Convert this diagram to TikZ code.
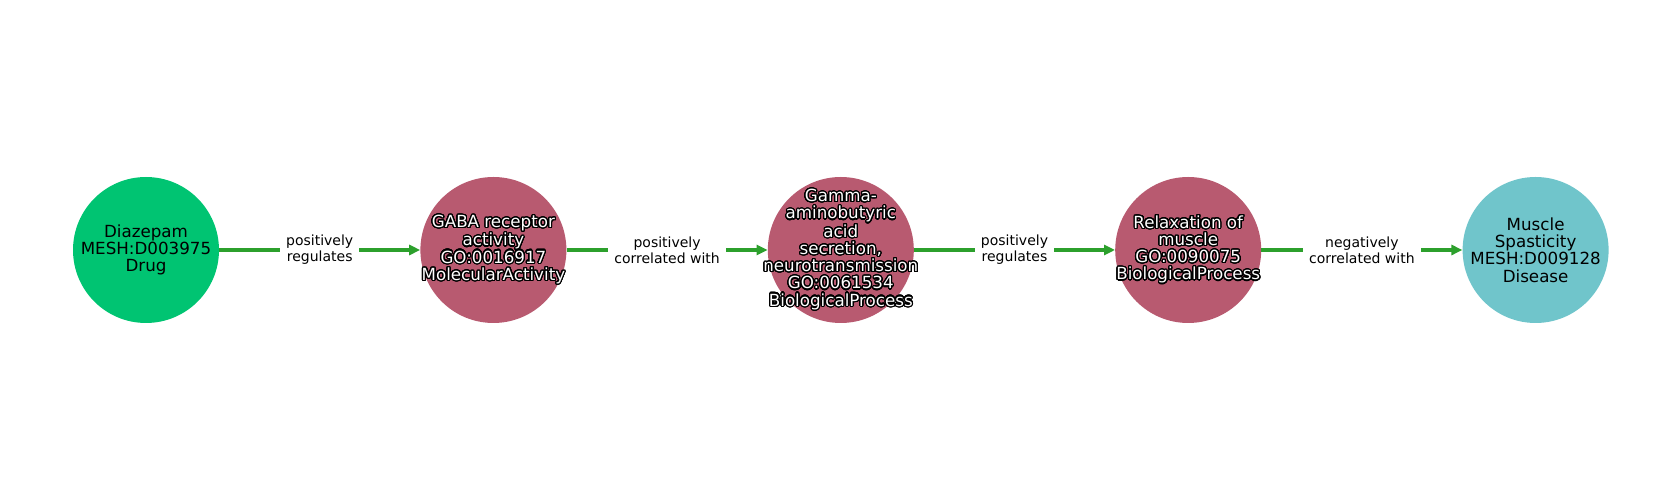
\documentclass[tikz,border=0pt]{standalone}
\usepackage{fontspec}
\setmainfont{DejaVu Sans}
\usepackage{contour}
\contourlength{1.2pt}
\contournumber{32}
\usetikzlibrary{arrows.meta, positioning}

\definecolor{drugcol}{HTML}{00C472}
\definecolor{gocol}{HTML}{B85A70}
\definecolor{diseasecol}{HTML}{70C5CB}
\definecolor{edgecol}{HTML}{2CA02C}

\newcommand{\ow}[1]{\contour{black}{#1}}

\begin{document}
\begin{tikzpicture}[x=1pt, y=1pt, >={Triangle[length=11pt,width=10pt]},
  node distance=201pt,
  ent/.style={circle, minimum size=146pt, inner sep=0pt},
  enttxt/.style={align=center, inner sep=0pt, font=\fontsize{16.7}{17.2}\selectfont},
  goent/.style={ent, fill=gocol},
  gotxt/.style={enttxt, text=white},
  rel/.style={->, edgecol, line width=3.6pt},
  lbl/.style={fill=white, text=black, align=center, inner xsep=6pt, inner ysep=3pt,
    font=\fontsize{14}{16}\selectfont}]
  \useasboundingbox (0,0) rectangle (1680,500);

  % entities
  \node[ent, fill=drugcol, label={[enttxt]center:Diazepam\\MESH:D003975\\Drug}]
    (drug) at (146,250) {};
  \node[goent, right=of drug,
    label={[gotxt]center:\ow{GABA receptor}\\\ow{activity}\\\ow{GO:0016917}\\\ow{MolecularActivity}}]
    (gaba) {};
  \node[goent, right=of gaba,
    label={[gotxt]center:\ow{Gamma-}\\\ow{aminobutyric}\\\ow{acid}\\\ow{secretion,}\\\ow{neurotransmission}\\\ow{GO:0061534}\\\ow{BiologicalProcess}}]
    (secr) {};
  \node[goent, right=of secr,
    label={[gotxt]center:\ow{Relaxation of}\\\ow{muscle}\\\ow{GO:0090075}\\\ow{BiologicalProcess}}]
    (relax) {};
  \node[ent, fill=diseasecol, right=of relax,
    label={[enttxt]center:Muscle\\Spasticity\\MESH:D009128\\Disease}]
    (spast) {};

  % relations
  \draw[rel] (drug) -- node[lbl] {positively\\regulates} (gaba);
  \draw[rel] (gaba) -- node[lbl] {positively\\correlated with} (secr);
  \draw[rel] (secr) -- node[lbl] {positively\\regulates} (relax);
  \draw[rel] (relax) -- node[lbl] {negatively\\correlated with} (spast);
\end{tikzpicture}
\end{document}
